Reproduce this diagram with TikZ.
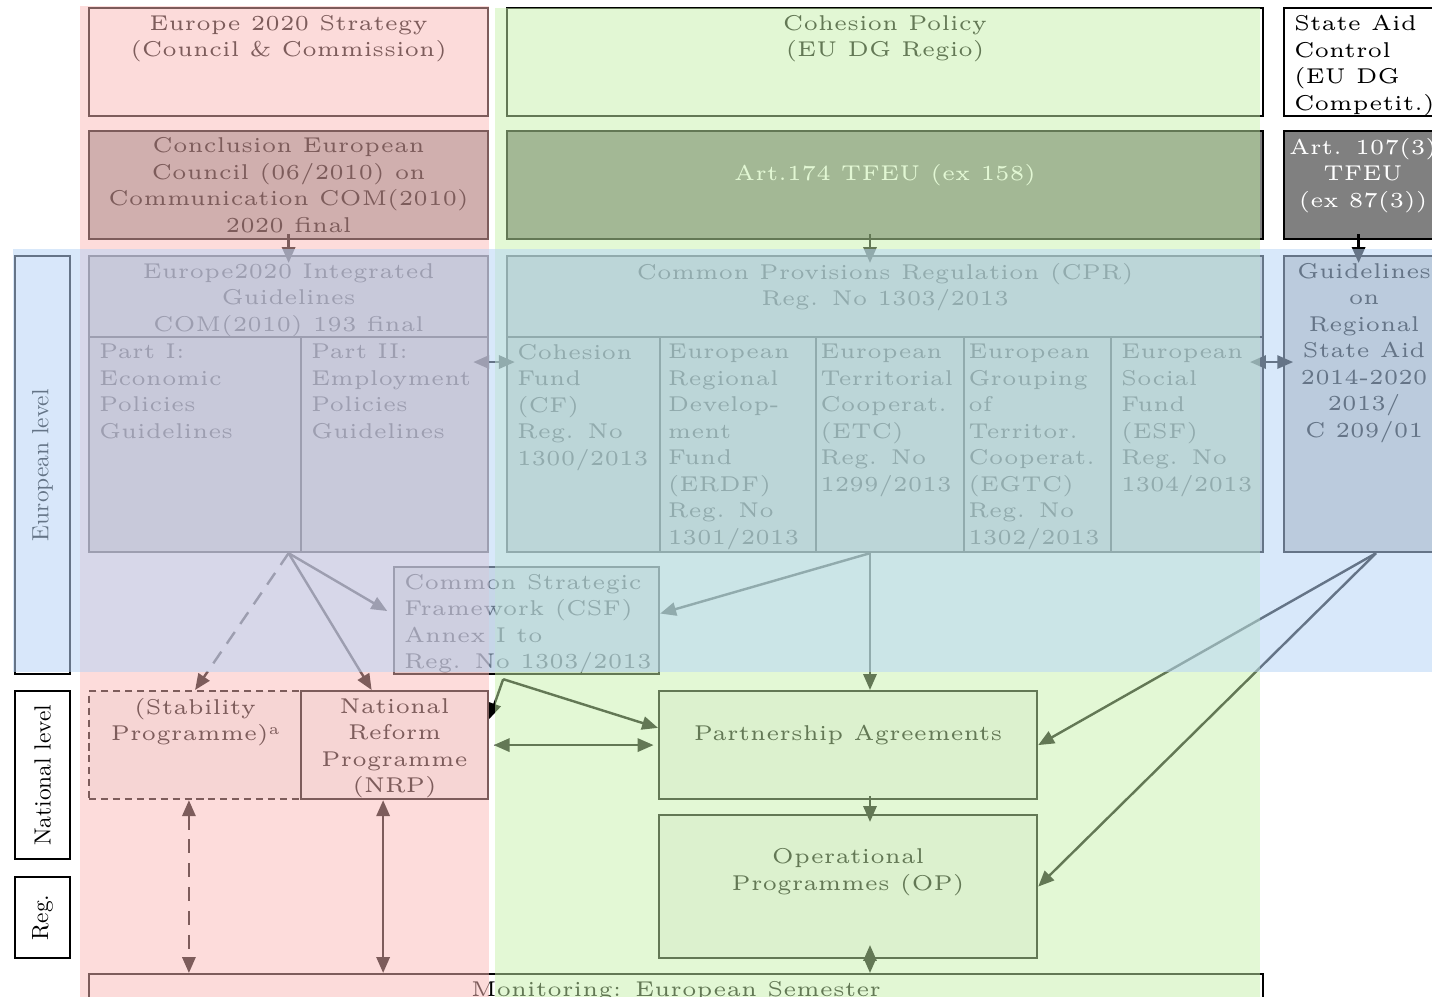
\documentclass[tikz,border=0pt]{standalone}
\usepackage{tikz}
\usetikzlibrary{arrows.meta,positioning}

\definecolor{pinkcol}{rgb}{0.984,0.725,0.718}
\definecolor{greencol}{rgb}{0.78,0.945,0.67}
\definecolor{bluecol}{rgb}{0.72,0.836,0.964}
\newcommand\boxfont{\fontsize{4.85}{6}\selectfont}

\tikzset{
  box/.style={draw, line width=0.5pt, anchor=north west, inner sep=0pt, fill=white},
  bw/.style={minimum width=#1*0.2264pt},
  bh/.style={minimum height=#1*0.2264pt},
  txt/.style={font=\boxfont, align=center, inner sep=1.67pt},
  ltxt/.style={font=\boxfont, align=left, inner xsep=2.3pt, inner ysep=1.67pt},
  lvl/.style={font=\normalsize, rotate=90, inner sep=0pt},
  arr/.style={line width=0.55pt, ->},
  darr/.style={line width=0.55pt, <->},
  dsh/.style={dash pattern=on 3.2pt off 2.2pt},
}

\begin{document}
\begin{tikzpicture}[x=0.2264pt, y=-0.2264pt, >={Triangle[length=3.6pt,width=3pt]}]
\useasboundingbox (0,0) rectangle (1432,997);

% top rows
\node[box, bw=399, bh=108] (strat) at (88,7) {};
\node[txt, below=0pt of strat.north] (strat-t) {Europe 2020 Strategy\\(Council \& Commission)};
\node[box, bw=399, bh=108, fill=black!35] (concl) at (88,130) {};
\node[txt] (concl-t) at (concl) {Conclusion European\\Council (06/2010) on\\Communication COM(2010)\\2020 final};

\node[box, bw=756, bh=108] (cohes) at (506,7) {};
\node[txt, below=0pt of cohes.north] (cohes-t) {Cohesion Policy\\(EU DG Regio)};
\node[box, bw=756, bh=108, fill=black!50] (art174) at (506,130) {};
\node[txt, text=white, below=6pt of art174.north] (art174-t) {Art.174 TFEU (ex 158)};

\node[box, bw=149, bh=108] (stateaid) at (1283,7) {};
\node[ltxt, below right=0pt of stateaid.north west] (stateaid-t) {State Aid\\Control\\(EU DG\\Competit.)};
\node[box, bw=149, bh=108, fill=black!50] (art107) at (1283,130) {};
\node[txt, text=white, below=0pt of art107.north, xshift=1pt] (art107-t) {Art. 107(3)\\TFEU\\(ex 87(3))};

% level labels
\node[box, bw=55, bh=418] (eurolvl) at (14,255) {};
\node[lvl] (eurolvl-t) at (eurolvl) {\scalebox{0.53}{European level}};
\node[box, bw=55, bh=168] (natlvl) at (14,690) {};
\node[lvl] (natlvl-t) at (natlvl) {\scalebox{0.53}{National level}};
\node[box, bw=55, bh=81] (reglvl) at (14,876) {};
\node[lvl] (reglvl-t) at (reglvl) {\scalebox{0.53}{Reg.}};

% European level
\node[box, bw=399, bh=296, fill=black!25] (eig) at (88,255) {};
\node[txt, below=0pt of eig.north] (eig-t) {Europe2020 Integrated\\Guidelines\\COM(2010) 193 final};
\node[box, bw=212, bh=215, fill=black!25] (part1) at (88,336) {};
\node[ltxt, below right=0pt of part1.north west] (part1-t) {Part I:\\Economic\\Policies\\Guidelines};
\node[box, bw=187, bh=215, fill=black!25] (part2) at (300,336) {};
\node[ltxt, below right=0pt of part2.north west] (part2-t) {Part II:\\Employment\\Policies\\Guidelines};

\node[box, bw=756, bh=296, fill=black!25] (cpr) at (506,255) {};
\node[txt, below=0pt of cpr.north] (cpr-t) {Common Provisions Regulation (CPR)\\Reg. No 1303/2013};
\node[box, bw=153, bh=215, fill=black!25] (cf) at (506,336) {};
\node[ltxt, below right=0pt of cf.north west] (cf-t) {Cohesion\\Fund\\(CF)\\Reg. No\\1300/2013};
\node[box, bw=156, bh=215, fill=black!25] (erdf) at (659,336) {};
\node[ltxt, below right=0pt of erdf.north west, xshift=-0.5pt] (erdf-t) {European\\Regional\\Develop-\\ment\\Fund\\(ERDF)\\Reg. No\\1301/2013};
\node[box, bw=148, bh=215, fill=black!25] (etc) at (815,336) {};
\node[ltxt, below right=0pt of etc.north west, xshift=-1.3pt] (etc-t) {European\\Territorial\\Cooperat.\\(ETC)\\Reg. No\\1299/2013};
\node[box, bw=147, bh=215, fill=black!25] (egtc) at (963,336) {};
\node[ltxt, below right=0pt of egtc.north west, xshift=-1.3pt] (egtc-t) {European\\Grouping\\of\\Territor.\\Cooperat.\\(EGTC)\\Reg. No\\1302/2013};
\node[box, bw=152, bh=215, fill=black!25] (esf) at (1110,336) {};
\node[ltxt, below right=0pt of esf.north west] (esf-t) {European\\Social\\Fund\\(ESF)\\Reg. No\\1304/2013};

\node[box, bw=160, bh=296, fill=black!25] (rsa) at (1283,255) {};
\node[txt, below=0pt of rsa.north] (rsa-t) {Guidelines\\on\\Regional\\State Aid\\2014-2020\\2013/\\C 209/01};

\node[box, bw=265, bh=107, fill=black!15] (csf) at (393,566) {};
\node[ltxt, below right=0pt of csf.north west] (csf-t) {Common Strategic\\Framework (CSF)\\Annex I to\\Reg. No 1303/2013};

% national and regional level
\node[box, bw=212, bh=108, fill=black!5, dash pattern=on 1.6pt off 1.1pt] (stab) at (88,690) {};
\node[txt, below=0pt of stab.north] (stab-t) {(Stability\\Programme)\raisebox{1.4pt}{\fontsize{3.5}{4}\selectfont a}};
\node[box, bw=187, bh=108, fill=black!5] (nrp) at (300,690) {};
\node[txt, below=0pt of nrp.north] (nrp-t) {National\\Reform\\Programme\\(NRP)};
\node[box, bw=378, bh=108, fill=black!5] (pa) at (658,690) {};
\node[txt, below=6pt of pa.north] (pa-t) {Partnership Agreements};
\node[box, bw=378, bh=143, fill=black!5] (op) at (658,814) {};
\node[txt, below=6pt of op.north] (op-t) {Operational\\Programmes (OP)};
\node[box, bw=1174, bh=60] (monit) at (88,973) {};
\node[txt, below=0pt of monit.north] (monit-t) {Monitoring: European Semester};

% connectors
\coordinate (spine) at (870,0);
\coordinate (csfout) at ([xshift=-5.3pt, yshift=-0.9pt]csf.south);
\draw[arr, shorten <=-1.4pt, shorten >=-1.8pt] (concl) -- (eig);
\draw[arr, shorten <=-1.4pt, shorten >=-1.8pt] (art174.south -| spine) -- (cpr.north -| spine);
\draw[arr, shorten <=-1.4pt, shorten >=-1.8pt] (art107.south) -- (art107.south |- rsa.north);
\draw[darr, shorten <=-3.6pt, shorten >=-2pt] ([yshift=-5.9pt]part2.north east) -- ([yshift=-5.9pt]cf.north west);
\draw[darr, shorten <=-3.2pt, shorten >=-2.3pt] ([yshift=-5.9pt]esf.north east) -- ([yshift=-5.9pt]esf.north east -| rsa.west);

\draw[arr, dsh] (eig.south) -- (stab.north);
\draw[arr] (eig.south) -- ([xshift=-5.2pt]nrp.north);
\draw[arr, shorten >=1.5pt] (eig.south) -- ([yshift=1.4pt]csf.west);
\draw[arr] (cpr.south -| spine) -- ([yshift=1.6pt]csf.east);
\draw[arr] (cpr.south -| spine) -- (pa.north -| spine);
\draw[arr] ([xshift=2.7pt]rsa.south) -- (pa.east);
\draw[arr] ([xshift=2.7pt]rsa.south) -- (op.east);

\draw[arr] (csfout) -- ([yshift=5.9pt]nrp.east);
\draw[arr] (csfout) -- ([yshift=3.9pt]pa.west);
\draw[darr, shorten <=1pt, shorten >=1pt] (nrp.east) -- (pa.west);
\draw[arr, shorten <=-1pt, shorten >=-1.8pt] (pa.south -| spine) -- (op.north -| spine);
\draw[darr] ([yshift=3.2pt]op.south -| spine) -- (monit.north -| spine);
\draw[darr, dsh] ([xshift=-1.4pt]stab.south) -- ([xshift=-1.4pt]stab.south |- monit.north);
\draw[darr] ([xshift=-2.6pt]nrp.south) -- ([xshift=-2.6pt]nrp.south |- monit.north);

% coloured layers on top
\fill[pinkcol, fill opacity=0.5] (80,6) rectangle (489,1005);
\fill[greencol, fill opacity=0.5] (495,8) rectangle (1260,1005);
\fill[bluecol, fill opacity=0.55] (13,249) rectangle (1432,672);
\end{tikzpicture}
\end{document}
